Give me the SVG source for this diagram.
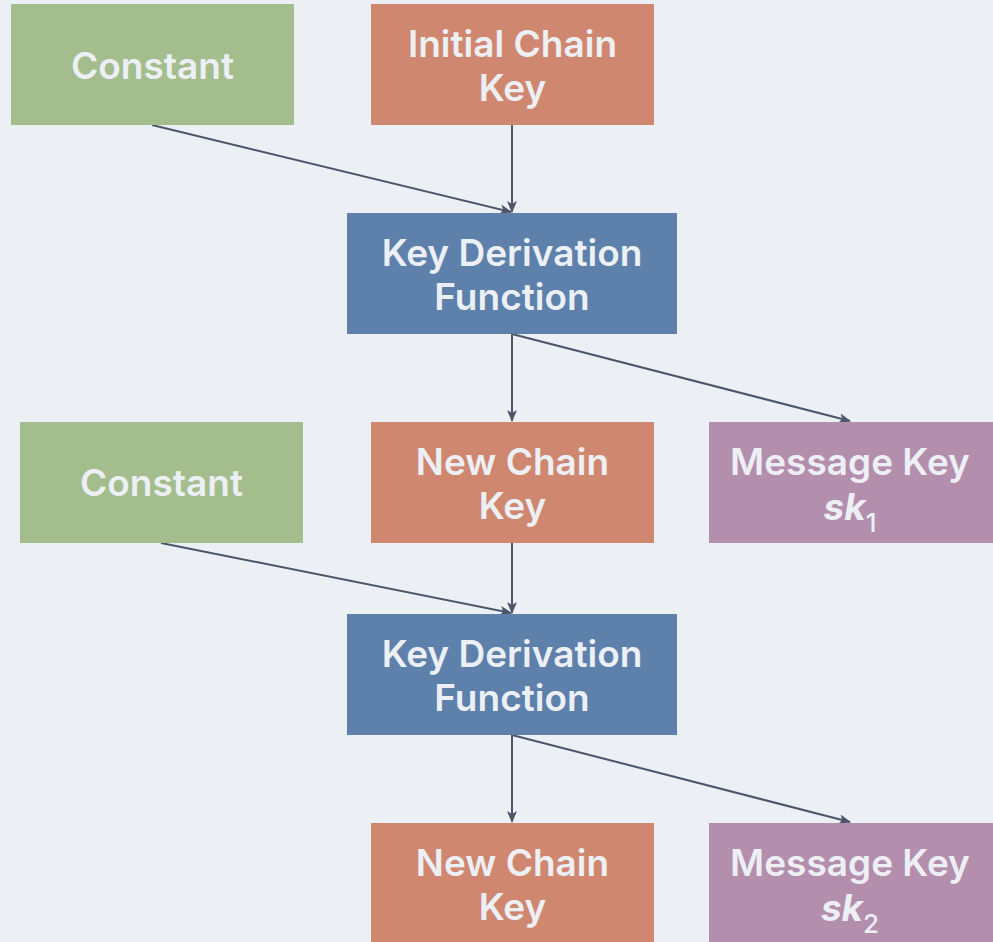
<svg xmlns="http://www.w3.org/2000/svg" width="993" height="942" viewBox="0 0 993 942">
  <defs>
    <marker id="arrow" viewBox="0 0 12 10" refX="11" refY="5" markerWidth="12" markerHeight="10" markerUnits="userSpaceOnUse" orient="auto">
      <path d="M0,0 L12,5 L0,10 L3,5 Z" fill="#4c566a"/>
    </marker>
    <style>
      .bg { fill: #eceff4; }
      .green { fill: #a3be8c; }
      .orange { fill: #d08770; }
      .blue { fill: #5e81ac; }
      .purple { fill: #b48ead; }
      .label { font-family: Inter, "Liberation Sans", sans-serif; font-weight: 600; font-size: 37px; fill: #eceff4; text-anchor: middle; }
      .math { font-style: italic; font-weight: 700; }
      .sub { font-size: 26px; font-style: normal; font-weight: 500; }
      .edge { stroke: #4c566a; stroke-width: 2; fill: none; marker-end: url(#arrow); }
    </style>
  </defs>

  <rect class="bg" x="0" y="0" width="993" height="942"/>

  <g id="connectors">
    <line class="edge" x1="152" y1="125" x2="511" y2="212"/>
    <line class="edge" x1="512" y1="125" x2="512" y2="212"/>
    <line class="edge" x1="512" y1="334" x2="512" y2="421"/>
    <line class="edge" x1="512" y1="334" x2="850" y2="421"/>
    <line class="edge" x1="161" y1="543" x2="511" y2="613"/>
    <line class="edge" x1="512" y1="543" x2="512" y2="613"/>
    <line class="edge" x1="512" y1="735" x2="512" y2="822"/>
    <line class="edge" x1="512" y1="735" x2="850" y2="822"/>
  </g>

  <g id="constant1">
    <rect class="green" x="11" y="4" width="283" height="121"/>
    <text class="label" x="152.5" y="79">Constant</text>
  </g>

  <g id="initialChainKey">
    <rect class="orange" x="371" y="4" width="283" height="121"/>
    <text class="label" x="512.5" y="57">Initial Chain</text>
    <text class="label" x="512.5" y="101">Key</text>
  </g>

  <g id="kdf1">
    <rect class="blue" x="347" y="213" width="330" height="121"/>
    <text class="label" x="512" y="266">Key Derivation</text>
    <text class="label" x="512" y="310">Function</text>
  </g>

  <g id="constant2">
    <rect class="green" x="20" y="422" width="283" height="121"/>
    <text class="label" x="161.5" y="496">Constant</text>
  </g>

  <g id="newChainKey1">
    <rect class="orange" x="371" y="422" width="283" height="121"/>
    <text class="label" x="512.5" y="475">New Chain</text>
    <text class="label" x="512.5" y="519">Key</text>
  </g>

  <g id="messageKey1">
    <rect class="purple" x="709" y="422" width="284" height="121"/>
    <text class="label" x="850" y="475">Message Key</text>
    <text class="label" x="850" y="520"><tspan class="math">sk</tspan><tspan class="sub" dy="12">1</tspan></text>
  </g>

  <g id="kdf2">
    <rect class="blue" x="347" y="614" width="330" height="121"/>
    <text class="label" x="512" y="667">Key Derivation</text>
    <text class="label" x="512" y="711">Function</text>
  </g>

  <g id="newChainKey2">
    <rect class="orange" x="371" y="823" width="283" height="121"/>
    <text class="label" x="512.5" y="876">New Chain</text>
    <text class="label" x="512.5" y="920">Key</text>
  </g>

  <g id="messageKey2">
    <rect class="purple" x="709" y="823" width="284" height="121"/>
    <text class="label" x="850" y="876">Message Key</text>
    <text class="label" x="850" y="921"><tspan class="math">sk</tspan><tspan class="sub" dy="12">2</tspan></text>
  </g>
</svg>
